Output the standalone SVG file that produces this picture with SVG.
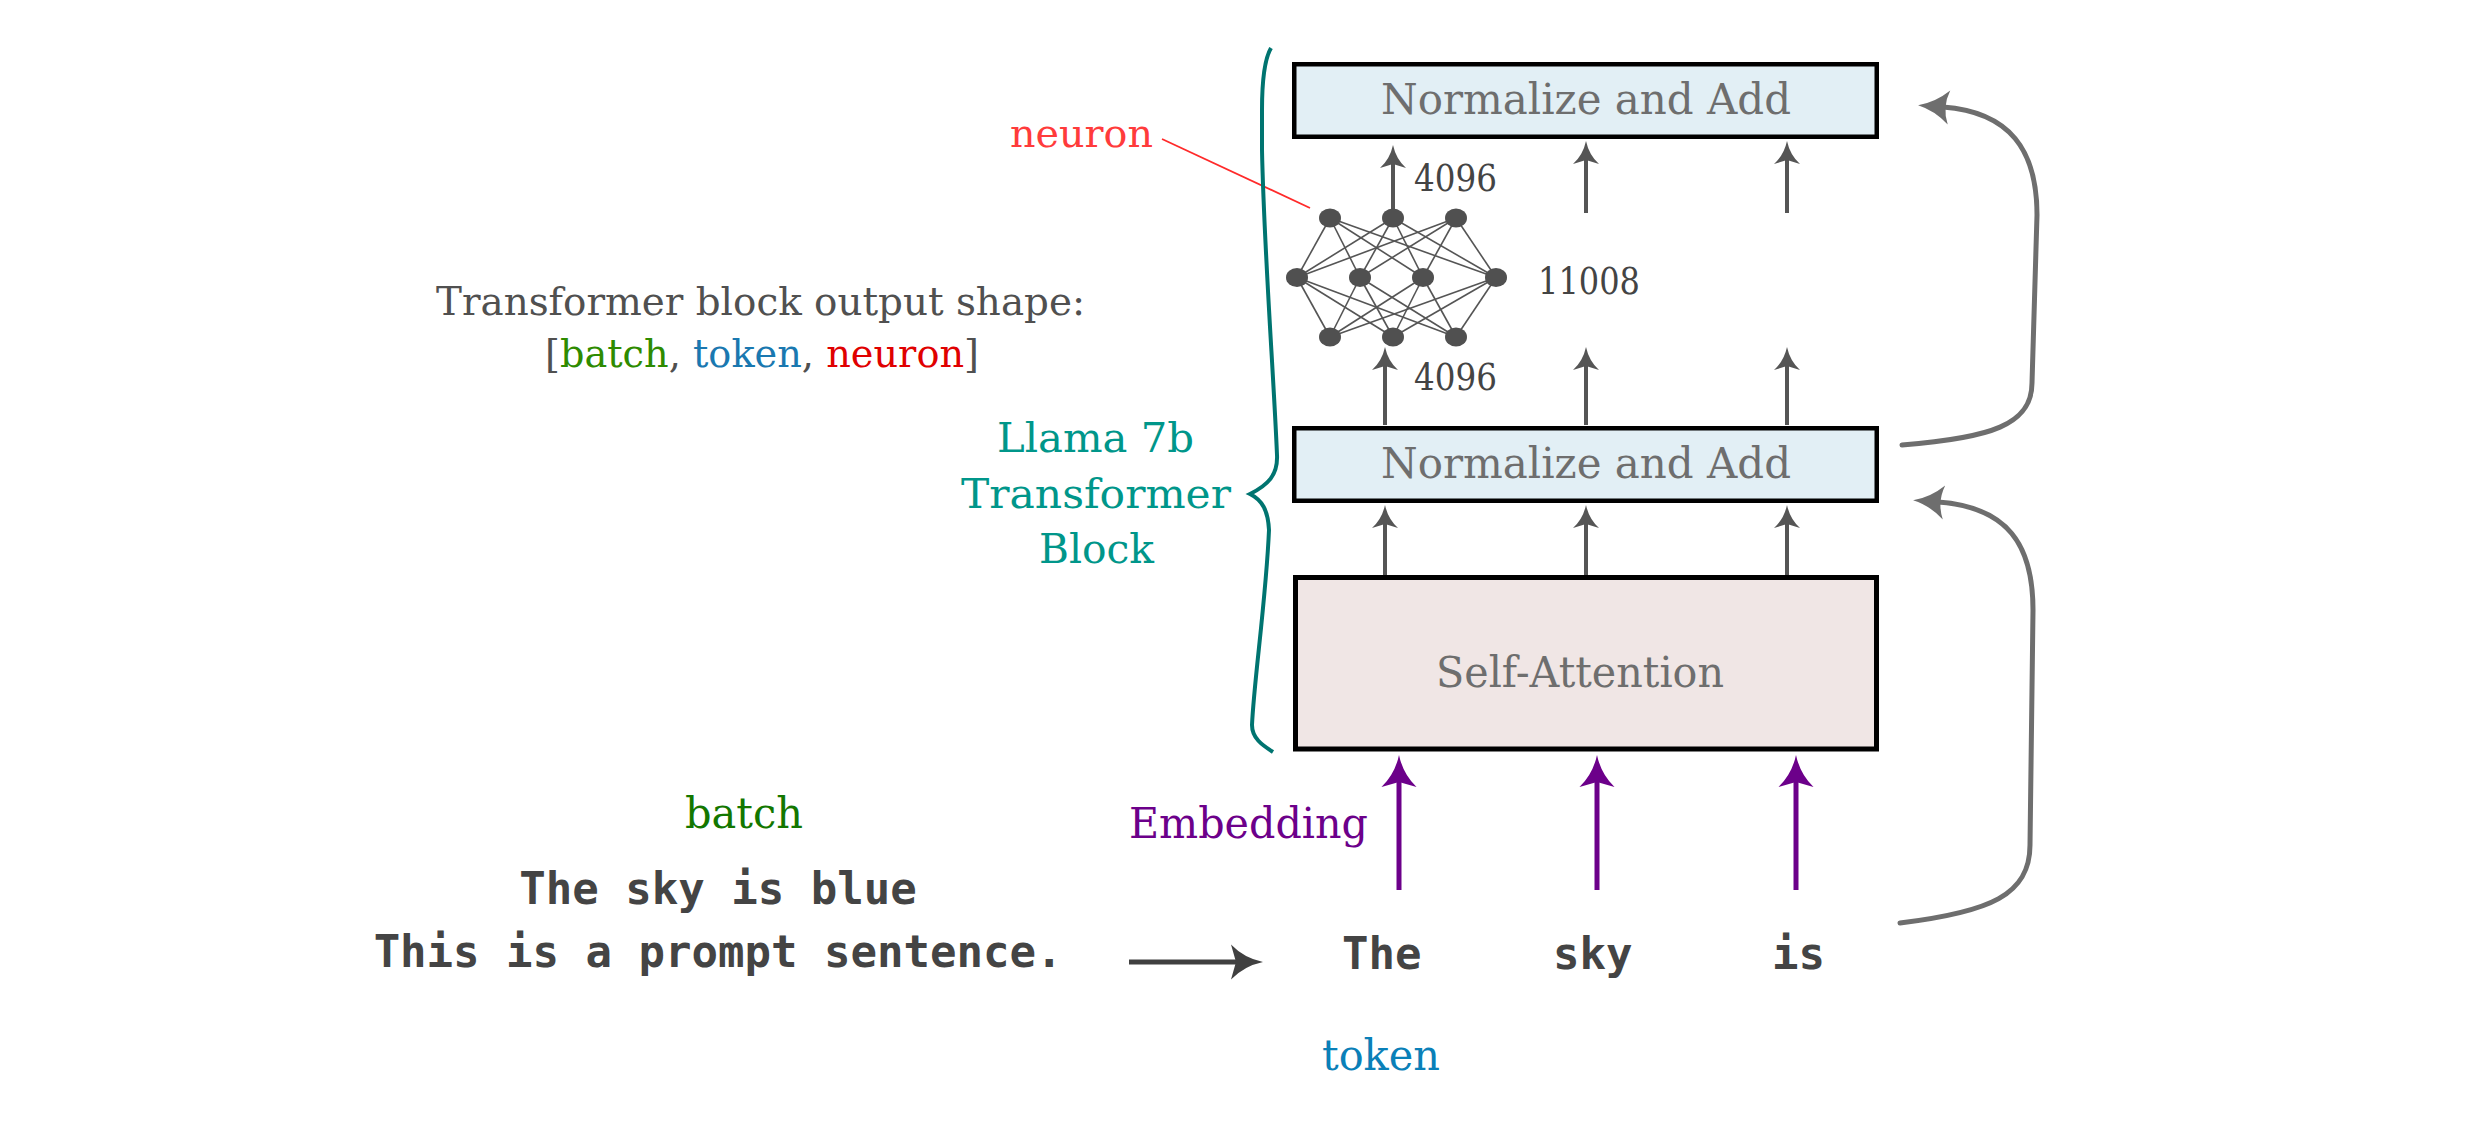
<svg xmlns="http://www.w3.org/2000/svg" width="2480" height="1134" viewBox="0 0 2480 1134">
<style>
.serif{font-family:"DejaVu Serif","Liberation Serif",serif}
.mono{font-family:"DejaVu Sans Mono","Liberation Mono",monospace;font-weight:bold;font-size:44px;fill:#444}
.boxtxt{font-size:43px;fill:#6e6e6e}
.num{font-size:37px;fill:#444}
.teal{font-size:41px;fill:#00968a}
.box{stroke:#000;stroke-width:4.5}
.gline{stroke:#555;stroke-width:4;fill:none}
.pline{stroke:#6c008a;stroke-width:5;fill:none}
.cline{stroke:#6e6e6e;stroke-width:5;fill:none;stroke-linecap:round}
.nn line{stroke:#555;stroke-width:1.6}
.nn ellipse{fill:#505050}
</style>
<defs>
<marker id="ag" markerUnits="userSpaceOnUse" markerWidth="30" markerHeight="30" refX="6" refY="15" orient="auto" overflow="visible"><path d="M23,15 Q9,12 0,2 L4,15 L0,28 Q9,18 23,15Z" fill="#555"/></marker>
<marker id="ap" markerUnits="userSpaceOnUse" markerWidth="36" markerHeight="36" refX="8" refY="18" orient="auto" overflow="visible"><path d="M32,18 Q13,14 0,0.5 L5,18 L0,35.5 Q13,22 32,18Z" fill="#6c008a"/></marker>
<marker id="ab" markerUnits="userSpaceOnUse" markerWidth="36" markerHeight="36" refX="8" refY="18" orient="auto" overflow="visible"><path d="M32,18 Q13,14 0,0.5 L5,18 L0,35.5 Q13,22 32,18Z" fill="#404040"/></marker>
<marker id="ac" markerUnits="userSpaceOnUse" markerWidth="34" markerHeight="34" refX="6" refY="17" orient="auto" overflow="visible"><path d="M31,17 Q14,13 0,0 Q7,17 0,34 Q14,21 31,17Z" fill="#6e6e6e"/></marker>
</defs>
<rect width="2480" height="1134" fill="#fff"/>

<g id="connectors">
<line class="gline" x1="1393" y1="218" x2="1393" y2="162" marker-end="url(#ag)"/>
<line class="gline" x1="1586" y1="213" x2="1586" y2="158" marker-end="url(#ag)"/>
<line class="gline" x1="1787" y1="213" x2="1787" y2="158" marker-end="url(#ag)"/>
<line class="gline" x1="1385" y1="425" x2="1385" y2="364" marker-end="url(#ag)"/>
<line class="gline" x1="1586" y1="425" x2="1586" y2="364" marker-end="url(#ag)"/>
<line class="gline" x1="1787" y1="425" x2="1787" y2="364" marker-end="url(#ag)"/>
<line class="gline" x1="1385" y1="575" x2="1385" y2="522" marker-end="url(#ag)"/>
<line class="gline" x1="1586" y1="575" x2="1586" y2="522" marker-end="url(#ag)"/>
<line class="gline" x1="1787" y1="575" x2="1787" y2="522" marker-end="url(#ag)"/>
<line class="pline" x1="1399" y1="890" x2="1399" y2="779" marker-end="url(#ap)"/>
<line class="pline" x1="1597" y1="890" x2="1597" y2="779" marker-end="url(#ap)"/>
<line class="pline" x1="1796" y1="890" x2="1796" y2="779" marker-end="url(#ap)"/>
<line x1="1129" y1="962" x2="1239" y2="962" stroke="#404040" stroke-width="5" marker-end="url(#ab)"/>
<path class="cline" d="M1902,445 C1990,438 2032,425 2032,383 L2037,215 C2037,150 2010,112 1943,107" marker-end="url(#ac)"/>
<path class="cline" d="M1900,923 C1990,912 2030,895 2030,845 L2033,610 C2033,545 2008,507 1938,502" marker-end="url(#ac)"/>
<line x1="1162" y1="139" x2="1310" y2="208" stroke="#ff2a2a" stroke-width="1.8"/>
</g>

<g id="norm_top">
<rect class="box" x="1294.25" y="64.25" width="582.5" height="72.5" fill="#e2eff5"/>
<text class="serif boxtxt" x="1381" y="114" textLength="410" lengthAdjust="spacingAndGlyphs">Normalize and Add</text>
</g>
<g id="norm_bottom">
<rect class="box" x="1294.25" y="428.25" width="582.5" height="72.5" fill="#e2eff5"/>
<text class="serif boxtxt" x="1381" y="478" textLength="410" lengthAdjust="spacingAndGlyphs">Normalize and Add</text>
</g>
<g id="self_attention">
<rect x="1295.5" y="577.5" width="581" height="171.5" fill="#f0e6e5" stroke="#000" stroke-width="5"/>
<text class="serif boxtxt" x="1436" y="686.5" textLength="288" lengthAdjust="spacingAndGlyphs">Self-Attention</text>
</g>

<g id="mlp" class="nn">
<line x1="1330" y1="218" x2="1297" y2="277.5"/><line x1="1330" y1="218" x2="1360" y2="277.5"/><line x1="1330" y1="218" x2="1423" y2="277.5"/><line x1="1330" y1="218" x2="1496" y2="277.5"/>
<line x1="1393" y1="218" x2="1297" y2="277.5"/><line x1="1393" y1="218" x2="1360" y2="277.5"/><line x1="1393" y1="218" x2="1423" y2="277.5"/><line x1="1393" y1="218" x2="1496" y2="277.5"/>
<line x1="1456" y1="218" x2="1297" y2="277.5"/><line x1="1456" y1="218" x2="1360" y2="277.5"/><line x1="1456" y1="218" x2="1423" y2="277.5"/><line x1="1456" y1="218" x2="1496" y2="277.5"/>
<line x1="1330" y1="337" x2="1297" y2="277.5"/><line x1="1330" y1="337" x2="1360" y2="277.5"/><line x1="1330" y1="337" x2="1423" y2="277.5"/><line x1="1330" y1="337" x2="1496" y2="277.5"/>
<line x1="1393" y1="337" x2="1297" y2="277.5"/><line x1="1393" y1="337" x2="1360" y2="277.5"/><line x1="1393" y1="337" x2="1423" y2="277.5"/><line x1="1393" y1="337" x2="1496" y2="277.5"/>
<line x1="1456" y1="337" x2="1297" y2="277.5"/><line x1="1456" y1="337" x2="1360" y2="277.5"/><line x1="1456" y1="337" x2="1423" y2="277.5"/><line x1="1456" y1="337" x2="1496" y2="277.5"/>
<ellipse cx="1330" cy="218" rx="11" ry="9.5"/><ellipse cx="1393" cy="218" rx="11" ry="9.5"/><ellipse cx="1456" cy="218" rx="11" ry="9.5"/>
<ellipse cx="1297" cy="277.5" rx="11" ry="9.5"/><ellipse cx="1360" cy="277.5" rx="11" ry="9.5"/><ellipse cx="1423" cy="277.5" rx="11" ry="9.5"/><ellipse cx="1496" cy="277.5" rx="11" ry="9.5"/>
<ellipse cx="1330" cy="337" rx="11" ry="9.5"/><ellipse cx="1393" cy="337" rx="11" ry="9.5"/><ellipse cx="1456" cy="337" rx="11" ry="9.5"/>
</g>

<g id="dims">
<text class="serif num" x="1414" y="191" textLength="83" lengthAdjust="spacingAndGlyphs">4096</text>
<text class="serif num" x="1538" y="294" textLength="102" lengthAdjust="spacingAndGlyphs">11008</text>
<text class="serif num" x="1414" y="390" textLength="83" lengthAdjust="spacingAndGlyphs">4096</text>
</g>

<g id="neuron_label">
<text class="serif" x="1010" y="147" font-size="40" fill="#ff3b3b" textLength="143" lengthAdjust="spacingAndGlyphs">neuron</text>
</g>

<g id="shape_label">
<text class="serif" x="436" y="315" font-size="39" fill="#505050" textLength="649" lengthAdjust="spacingAndGlyphs">Transformer block output shape:</text>
<text class="serif" x="545" y="367" font-size="39" fill="#505050" textLength="434" lengthAdjust="spacingAndGlyphs">[<tspan fill="#2e8b00">batch</tspan>, <tspan fill="#1a78b0">token</tspan>, <tspan fill="#e00000">neuron</tspan>]</text>
</g>

<g id="block_brace">
<path d="M1271,48 C1264,60 1262,80 1262,110 L1262,150 C1264,250 1274,380 1277,455 C1278,475 1268,485 1250,494 C1262,500 1268,510 1269,530 C1266,600 1254,680 1252,725 C1252,738 1262,745 1273,752" fill="none" stroke="#007470" stroke-width="4"/>
<text class="serif teal" x="997" y="452" textLength="197" lengthAdjust="spacingAndGlyphs">Llama 7b</text>
<text class="serif teal" x="961" y="508" textLength="270" lengthAdjust="spacingAndGlyphs">Transformer</text>
<text class="serif teal" x="1039" y="563" textLength="115" lengthAdjust="spacingAndGlyphs">Block</text>
</g>

<g id="embedding_label">
<text class="serif" x="1129" y="838" font-size="42" fill="#6c008a" textLength="239" lengthAdjust="spacingAndGlyphs">Embedding</text>
</g>

<g id="batch">
<text class="serif" x="685" y="828" font-size="42" fill="#137700" textLength="118" lengthAdjust="spacingAndGlyphs">batch</text>
<text class="mono" x="718" y="904" text-anchor="middle">The sky is blue</text>
<text class="mono" x="718" y="967" text-anchor="middle">This is a prompt sentence.</text>
</g>

<g id="tokens">
<text class="mono" x="1342" y="969">The</text>
<text class="mono" x="1553" y="969">sky</text>
<text class="mono" x="1772" y="969">is</text>
<text class="serif" x="1322" y="1070" font-size="42" fill="#0a80b8" textLength="118" lengthAdjust="spacingAndGlyphs">token</text>
</g>
</svg>
